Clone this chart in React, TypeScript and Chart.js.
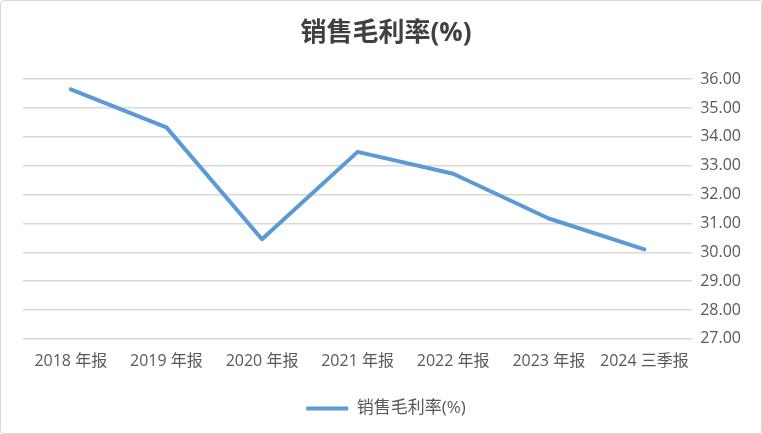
import React, { useEffect, useRef } from "react";
import { Chart, registerables } from "chart.js";

Chart.register(...registerables);

const categories = ["2018 年报", "2019 年报", "2020 年报", "2021 年报", "2022 年报", "2023 年报", "2024 三季报"];
const seriesName = "销售毛利率(%)";
const values = [35.65, 34.33, 30.45, 33.48, 32.72, 31.17, 30.1];
const yMin = 27;
const yMax = 36;
const yStep = 1;

const FONT = "'Open Sans', 'Noto Sans CJK SC', sans-serif";

export default function App() {
  const ref = useRef<HTMLCanvasElement | null>(null);
  useEffect(() => {
    document.body.style.margin = "0";
    const ctx = ref.current;
    if (!ctx) return;
    const chart = new Chart(ctx, {
      type: "line",
      data: {
        labels: categories,
        datasets: [
          {
            label: seriesName,
            data: values,
            borderColor: "#5B9BD5",
            backgroundColor: "#5B9BD5",
            borderWidth: 4,
            pointRadius: 0,
            pointHoverRadius: 0,
            tension: 0,
            borderCapStyle: "round",
            borderJoinStyle: "round",
          },
        ],
      },
      options: {
        animation: false,
        responsive: false,
        maintainAspectRatio: false,
        layout: { padding: { left: 22, right: 12, top: 0, bottom: 6 } },
        plugins: {
          title: {
            display: true,
            text: seriesName,
            color: "#404040",
            font: { family: FONT, size: 26, weight: "bold" },
            padding: { top: 17, bottom: 30 },
          },
          legend: {
            position: "bottom",
            labels: {
              color: "#595959",
              font: { family: FONT, size: 17 },
              usePointStyle: true,
              pointStyle: "line",
              pointStyleWidth: 42,
              boxHeight: 4,
              padding: 24,
            },
          },
          tooltip: { enabled: false },
        },
        scales: {
          x: {
            offset: true,
            grid: { display: false },
            border: { display: false },
            ticks: {
              color: "#595959",
              font: { family: FONT, size: 16 },
              maxRotation: 0,
              autoSkip: false,
              padding: 5,
            },
          },
          y: {
            position: "right",
            min: yMin,
            max: yMax,
            ticks: {
              stepSize: yStep,
              color: "#595959",
              font: { family: FONT, size: 16 },
              padding: 8,
              callback: (v: any) => Number(v).toFixed(2),
            },
            grid: { color: "#D9D9D9", lineWidth: 1.5, drawTicks: false },
            border: { display: false },
          },
        },
      },
    });
    return () => chart.destroy();
  }, []);
  return (
    <div
      style={{
        width: 760,
        height: 432,
        border: "1px solid #D9D9D9",
        borderRadius: 4,
        background: "#fff",
        position: "relative",
      }}
    >
      <canvas ref={ref} width={760} height={432} style={{ display: "block" }} />
    </div>
  );
}
